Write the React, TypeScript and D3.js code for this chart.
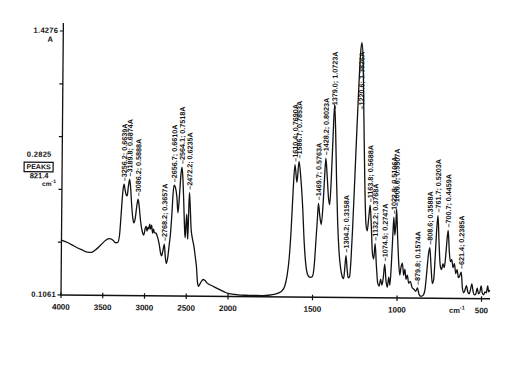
import React from 'react';
import * as d3 from 'd3';

// Spectrum (wavenumber cm-1, absorbance A)
const wavenumbers = [
  4000, 3920, 3850, 3760, 3690, 3640, 3590, 3530, 3470, 3430, 3390, 3350, 3325, 3305, 3290, 3275, 3265,
  3256.2, 3245, 3230, 3218, 3205, 3189.8, 3178, 3165, 3150, 3135, 3120, 3100, 3086.2, 3072, 3055, 3035,
  3015, 3000, 2988, 2978, 2965, 2955, 2945, 2935, 2922, 2910, 2898, 2889, 2870, 2850, 2830, 2812, 2800,
  2785, 2768.2, 2755, 2742, 2725, 2710, 2695, 2680, 2668, 2656.7, 2638, 2622, 2608, 2590, 2575, 2564.1,
  2553, 2540, 2528, 2520, 2510, 2502, 2494, 2488, 2480, 2472.2, 2462, 2450, 2435, 2415, 2395, 2380, 2368,
  2355, 2340, 2320, 2300, 2280, 2250, 2200, 2150, 2100, 2050, 2000, 1950, 1900, 1850, 1800, 1760, 1720,
  1700, 1680, 1665, 1652, 1640, 1630, 1620, 1610.4, 1598, 1586.7, 1575, 1563, 1552, 1540, 1528, 1515,
  1502, 1492, 1482, 1475, 1469.7, 1462, 1452, 1443, 1435, 1428.2, 1420, 1410, 1403, 1395, 1387, 1379.0,
  1372, 1364, 1355, 1345, 1335, 1325, 1317, 1310, 1304.2, 1297, 1290, 1282, 1274, 1266, 1256, 1246, 1236,
  1228, 1220.6, 1213, 1205, 1197, 1188, 1180, 1172, 1163.8, 1156, 1148, 1140, 1132.2, 1124, 1115, 1106,
  1098, 1090, 1082, 1074.5, 1066, 1058, 1050, 1043, 1035, 1028, 1022.8, 1016, 1011, 1006.6, 1000, 993,
  985, 978, 970, 962, 955, 948, 940, 932, 922, 912, 900, 890, 879.8, 870, 858, 846, 835, 826, 817, 808.6,
  800, 792, 784, 776, 768, 761.7, 754, 746, 738, 730, 722, 714, 707, 700.7, 693, 686, 678, 670, 662, 654,
  646, 638, 630, 621.4, 614, 606, 598, 590, 582, 574, 566, 558, 550, 542, 534, 526, 518, 510, 503, 496,
  488, 480, 472, 464, 458, 452,
];
const absorbance = [
  0.381, 0.368, 0.352, 0.334, 0.322, 0.321, 0.334, 0.358, 0.382, 0.390, 0.385, 0.370, 0.372, 0.410, 0.500, 0.600, 0.645,
  0.6639, 0.640, 0.610, 0.605, 0.650, 0.6874, 0.650, 0.570, 0.500, 0.470, 0.490, 0.560, 0.5888, 0.550, 0.480, 0.430,
  0.410, 0.440, 0.455, 0.430, 0.450, 0.440, 0.465, 0.440, 0.460, 0.420, 0.440, 0.423, 0.420, 0.400, 0.366, 0.320, 0.306,
  0.330, 0.3657, 0.300, 0.268, 0.300, 0.360, 0.420, 0.520, 0.620, 0.6610, 0.645, 0.600, 0.523, 0.620, 0.720, 0.7518,
  0.700, 0.580, 0.450, 0.398, 0.470, 0.516, 0.430, 0.391, 0.520, 0.6235, 0.560, 0.450, 0.400, 0.360, 0.300, 0.250, 0.180,
  0.156, 0.165, 0.180, 0.190, 0.186, 0.172, 0.160, 0.150, 0.140, 0.130, 0.121, 0.116, 0.113, 0.112, 0.112, 0.114, 0.120,
  0.126, 0.138, 0.160, 0.210, 0.300, 0.440, 0.640, 0.7690, 0.680, 0.7853, 0.700, 0.560, 0.380, 0.260, 0.215, 0.205,
  0.210, 0.260, 0.400, 0.500, 0.5763, 0.520, 0.470, 0.560, 0.700, 0.8023, 0.720, 0.600, 0.570, 0.700, 0.900, 1.0723,
  0.950, 0.700, 0.480, 0.330, 0.250, 0.210, 0.200, 0.260, 0.3158, 0.250, 0.205, 0.210, 0.300, 0.460, 0.700, 0.950, 1.180,
  1.330, 1.3826, 1.300, 1.000, 0.700, 0.480, 0.440, 0.500, 0.5688, 0.470, 0.330, 0.300, 0.3768, 0.270, 0.180, 0.165,
  0.200, 0.170, 0.210, 0.2747, 0.190, 0.160, 0.210, 0.170, 0.280, 0.420, 0.5106, 0.420, 0.470, 0.5507, 0.420, 0.300,
  0.220, 0.260, 0.280, 0.220, 0.250, 0.200, 0.220, 0.180, 0.190, 0.160, 0.150, 0.140, 0.1574, 0.125, 0.115, 0.120, 0.150, 0.230, 0.320, 0.3588,
  0.260, 0.180, 0.200, 0.320, 0.460, 0.5203, 0.380, 0.270, 0.250, 0.280, 0.260, 0.320, 0.400, 0.4459, 0.340, 0.290, 0.300, 0.260, 0.280, 0.230,
  0.250, 0.210, 0.220, 0.2385, 0.160, 0.135, 0.150, 0.170, 0.140, 0.130, 0.150, 0.180, 0.140, 0.125, 0.130, 0.160, 0.130, 0.140, 0.170, 0.135,
  0.125, 0.140, 0.135, 0.170, 0.140, 0.150,
];

// Labelled peaks
const peakWn = [3256.2, 3189.8, 3086.2, 2768.2, 2656.7, 2564.1, 2472.2, 1610.4, 1586.7, 1469.7, 1428.2, 1379.0,
  1304.2, 1220.6, 1163.8, 1132.2, 1074.5, 1022.8, 1006.6, 879.8, 808.6, 761.7, 700.7, 621.4];
const peakAbs = [0.6639, 0.6874, 0.5888, 0.3657, 0.6610, 0.7518, 0.6235, 0.7690, 0.7853, 0.5763, 0.8023, 1.0723,
  0.3158, 1.3826, 0.5688, 0.3768, 0.2747, 0.5106, 0.5507, 0.1574, 0.3588, 0.5203, 0.4459, 0.2385];

const xTicks = [4000, 3500, 3000, 2500, 2000, 1500, 1000, 500];
const yMin = 0.1061;
const yMax = 1.4276;
const yTickCount = 5;
const threshold = '0.2825';
const peakCutoff = '821.4';

const FONT = "'Liberation Sans', Arial, sans-serif";

export default function App() {
  const x = d3.scaleLinear().domain([4000, 2000, 450]).range([61, 228, 490]);
  const y = d3.scaleLinear().domain([yMin, yMax]).range([295, 31]);
  const pts: [number, number][] = wavenumbers.map((w, i) => [x(w), y(absorbance[i])]);
  const path = d3.line().curve(d3.curveMonotoneX)(pts) || '';
  const yTicks = d3.range(yTickCount + 1).map((k) => yMin + ((yMax - yMin) * k) / yTickCount);

  return (
    <svg width={510} height={368} style={{ position: 'absolute', left: 0, top: 0, background: '#fff' }}
      fontFamily={FONT} fontWeight="bold">
      <rect x={0} y={0} width={510} height={368} fill="#fff" />
      <g transform="rotate(0.5, 61, 295)" fill="#111">
        {/* y axis */}
        <line x1={61} x2={61} y1={23} y2={295.5} stroke="#111" strokeWidth={1.3} />
        {yTicks.map((v, i) => (
          <line key={i} x1={57.5} x2={61} y1={y(v)} y2={y(v)} stroke="#111" strokeWidth={1.2} />
        ))}
        <text x={56} y={y(yMax)} fontSize={7.5} textAnchor="end" dominantBaseline="middle" letterSpacing={0.3}>{yMax.toFixed(4)}</text>
        <text x={48} y={40} fontSize={7.5} textAnchor="middle" dominantBaseline="middle">A</text>
        <text x={56} y={y(yMin)} fontSize={7.5} textAnchor="end" dominantBaseline="middle" letterSpacing={0.3}>{yMin.toFixed(4)}</text>

        <text x={38} y={155} fontSize={7.5} textAnchor="middle" dominantBaseline="middle" letterSpacing={0.3}>{threshold}</text>
        <rect x={23} y={162.5} width={29} height={9.5} fill="#fff" stroke="#111" strokeWidth={1.2} />
        <text x={37.5} y={167.5} fontSize={7} textAnchor="middle" dominantBaseline="middle">PEAKS</text>
        <text x={38} y={176.5} fontSize={7.5} textAnchor="middle" dominantBaseline="middle">{peakCutoff}</text>
        <text x={55} y={184.5} fontSize={6.5} textAnchor="end" dominantBaseline="middle">cm<tspan fontSize={5} dy={-2.5}>-1</tspan></text>

        {/* x axis */}
        <line x1={60.5} x2={490} y1={295} y2={295} stroke="#111" strokeWidth={1.3} />
        {xTicks.map((t) => (
          <g key={t}>
            <line x1={x(t)} x2={x(t)} y1={292.5} y2={298} stroke="#111" strokeWidth={1.2} />
            <text x={x(t)} y={307.5} fontSize={8} textAnchor="middle" dominantBaseline="middle">{t}</text>
          </g>
        ))}
        <text x={457} y={307.5} fontSize={7.5} textAnchor="middle" dominantBaseline="middle">cm<tspan fontSize={5.5} dy={-2.5}>-1</tspan></text>

        {/* spectrum */}
        <path d={path} fill="none" stroke="#111" strokeWidth={1.3} strokeLinejoin="round" />

        {/* peak labels */}
        {peakWn.map((w, i) => {
          const px = x(w);
          const py = y(peakAbs[i]);
          const txt = `\u2013${w.toFixed(1)}; ${peakAbs[i].toFixed(4)}A`;
          const len = txt.length * 4.3;
          const bottom = Math.max(py - 3, 38 + len);
          return (
            <text key={i} transform={`translate(${px + 2.6},${bottom}) rotate(-90)`} fontSize={7.2}>{txt}</text>
          );
        })}
      </g>
    </svg>
  );
}
